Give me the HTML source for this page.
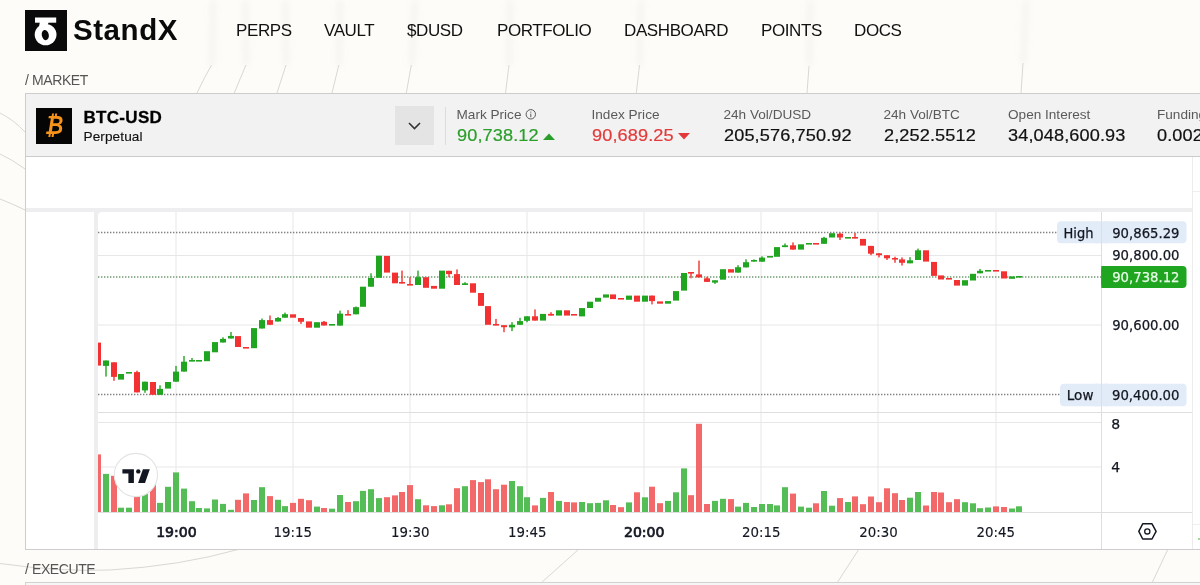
<!DOCTYPE html>
<html><head><meta charset="utf-8">
<style>
*{box-sizing:border-box;margin:0;padding:0}
html,body{width:1200px;height:585px;overflow:hidden;background:#fdfcf8;font-family:"Liberation Sans",Arial,sans-serif;color:#111}
.abs{position:absolute}
.t{position:absolute;white-space:nowrap;line-height:1}
#bgsvg{position:absolute;left:0;top:0}
.logo{left:25px;top:10px;width:42px;height:41px;background:#0a0a0a}
.brand{left:73px;top:14.5px;font-size:29.5px;font-weight:bold;color:#0a0a0a;letter-spacing:0.55px}
.nav{top:21.5px;font-size:17px;letter-spacing:-0.4px;color:#111}
.sec{font-size:14px;color:#555;letter-spacing:-0.4px}
.panel{left:25px;top:93px;width:1190px;height:457px;border:1px solid #cdcdcd;background:#fff}
.hdr{left:26px;top:94px;width:1180px;height:63px;background:#f2f2f2;border-bottom:1px solid #cbcbcb}
.btc{left:36px;top:108px;width:36px;height:36px;background:#050505}
.lbl{font-size:13.6px;color:#5a5a5a}
.val{font-size:16.5px;letter-spacing:0.1px;color:#111;transform:scaleX(1.1);transform-origin:0 0;-webkit-text-stroke:0.2px currentColor}
</style></head><body>
<svg id="bgsvg" width="1200" height="585" viewBox="0 0 1200 585">
 <defs><filter id="bl" x="-50%" y="-10%" width="200%" height="120%"><feGaussianBlur stdDeviation="3.5"/></filter></defs>
 <g stroke="#d6d6d1" stroke-width="1.2" fill="none" filter="url(#bl)">
  <path d="M213 0 L212 66"/>
  <path d="M245.5 0 L246 66"/>
  <path d="M285.5 0 L286 66"/>
  <path d="M340 0 L339 66"/>
  <path d="M415 0 L411.5 66"/>
  <path d="M510 0 L509 66"/>
  <path d="M641 0 L639.5 66"/>
  <path d="M810 0 L809.3 66"/>
  <path d="M1026 0 L1023.3 64"/>
 </g>
 <g stroke="#d9d9d4" stroke-width="1" fill="none">
  <path d="M211.5 65 Q204 78 197 93"/>
  <path d="M246 65 Q240 79 234.3 93"/>
  <path d="M286 65 Q281.5 79 277 93"/>
  <path d="M338.8 65 L332 93"/>
  <path d="M411.3 65 L406.3 93"/>
  <path d="M509 65 L505.5 93"/>
  <path d="M639.5 65 L636.3 93"/>
  <path d="M809 66 L807 93"/>
  <path d="M1023 63 L1021 93"/>
  <path d="M0 113 Q14 120 25 132"/>
  <path d="M0 154 Q13 160 25 169"/>
  <path d="M0 199 Q13 204 25 210"/>
  <path d="M0 563.5 Q60 572 110 570 Q180 566 240 549"/>
  <path d="M579 549 L541 583"/>
  <path d="M859 549 L837 583"/>
  <path d="M1168 549 L1152 583"/>
 </g>
</svg>

<div class="abs logo">
 <svg width="42" height="41" viewBox="0 0 42 41">
  <rect x="10" y="7.5" width="21.2" height="5.2" fill="#fff"/>
  <path d="M15 11.5 L24 11.5 L22 16.5 L14 16.5Z" fill="#fff"/>
  <ellipse cx="20.6" cy="24.6" rx="10.9" ry="10.7" fill="#fff"/>
  <ellipse cx="20.3" cy="25.1" rx="3.5" ry="5.1" transform="rotate(-12 20.3 25.1)" fill="#0a0a0a"/>
 </svg>
</div>
<div class="t brand">StandX</div>

<div class="t nav" style="left:236px">PERPS</div>
<div class="t nav" style="left:324px">VAULT</div>
<div class="t nav" style="left:407px">$DUSD</div>
<div class="t nav" style="left:497px">PORTFOLIO</div>
<div class="t nav" style="left:624px">DASHBOARD</div>
<div class="t nav" style="left:761px">POINTS</div>
<div class="t nav" style="left:854px">DOCS</div>

<div class="t sec" style="left:25px;top:73px">/ MARKET</div>

<div class="abs panel"></div>
<div class="abs hdr"></div>
<div class="abs btc">
 <svg width="36" height="36" viewBox="0 0 36 36">
  <text x="8.7" y="26" font-family="Liberation Sans" font-weight="bold" font-style="italic" font-size="26.5" textLength="18.6" lengthAdjust="spacingAndGlyphs" fill="#f7931a">&#x20BF;</text>
 </svg>
</div>
<div class="t" style="left:83.5px;top:109px;font-size:17px;font-weight:bold;letter-spacing:0.3px;-webkit-text-stroke:0.3px #000;color:#000">BTC-USD</div>
<div class="t" style="left:83.5px;top:129.5px;font-size:13.6px;color:#111;letter-spacing:0.1px;-webkit-text-stroke:0.15px #111">Perpetual</div>

<div class="abs" style="left:395px;top:106px;width:39px;height:39px;background:#e4e4e4">
 <svg width="39" height="39" viewBox="0 0 39 39"><path d="M14 17 L19.5 22.5 L25 17" stroke="#333" stroke-width="1.6" fill="none"/></svg>
</div>
<div class="abs" style="left:445px;top:107px;width:1px;height:38px;background:#dcdcdc"></div>

<div class="t lbl" style="left:456.5px;top:108px">Mark Price</div>
<svg class="abs" style="left:525px;top:109px" width="12" height="12" viewBox="0 0 12 12"><circle cx="5.8" cy="5.3" r="4.7" stroke="#5a5a5a" stroke-width="1" fill="none"/><rect x="5.3" y="4.6" width="1" height="3.6" fill="#5a5a5a"/><rect x="5.3" y="2.6" width="1" height="1.1" fill="#5a5a5a"/></svg>
<div class="t val" style="left:456.5px;top:127px;color:#2a9e2a">90,738.12</div>
<svg class="abs" style="left:543px;top:133px" width="12" height="7" viewBox="0 0 12 7"><path d="M0 7 L6 0.5 L12 7Z" fill="#2a9e2a"/></svg>

<div class="t lbl" style="left:591.5px;top:108px">Index Price</div>
<div class="t val" style="left:591.5px;top:127px;color:#e23a3a">90,689.25</div>
<svg class="abs" style="left:678px;top:133px" width="12" height="7" viewBox="0 0 12 7"><path d="M0 0 L12 0 L6 6.5Z" fill="#e23a3a"/></svg>

<div class="t lbl" style="left:723.5px;top:108px">24h Vol/DUSD</div>
<div class="t val" style="left:723.5px;top:127px">205,576,750.92</div>

<div class="t lbl" style="left:883.5px;top:108px">24h Vol/BTC</div>
<div class="t val" style="left:883.5px;top:127px">2,252.5512</div>

<div class="t lbl" style="left:1008px;top:108px">Open Interest</div>
<div class="t val" style="left:1008px;top:127px">34,048,600.93</div>

<div class="t lbl" style="left:1157px;top:108px">Funding</div>
<div class="t val" style="left:1157px;top:127px">0.0025%</div>

<!-- chart frame -->
<div class="abs" style="left:26px;top:208px;width:1166px;height:4px;background:#eeeef0"></div>
<div class="abs" style="left:94px;top:212px;width:4px;height:337px;background:#eeeef0"></div>
<div class="abs" style="left:98px;top:212px;width:5px;height:5px;background:#eeeef0"></div>
<div class="abs" style="left:1192px;top:157px;width:1px;height:392px;background:#ececec"></div>
<div class="abs" style="left:1193px;top:191px;width:7px;height:1px;background:#efefef"></div>
<div class="abs" style="left:1193px;top:524px;width:7px;height:1px;background:#efefef"></div>
<div class="abs" style="left:1198px;top:538px;width:2px;height:2px;background:#9fd89f"></div>

<svg class="abs" style="left:0;top:0" width="1200" height="585" viewBox="0 0 1200 585">
 <defs><clipPath id="cp"><rect x="98" y="212" width="1094" height="337" rx="4"/></clipPath></defs>
 <g clip-path="url(#cp)">
 <rect x="98" y="212" width="1094" height="337" fill="#fff"/>
 <!-- grid -->
 <g fill="#e7e7e9">
  <rect x="175.5" y="212" width="1" height="300"/>
  <rect x="292.5" y="212" width="1" height="300"/>
  <rect x="409.5" y="212" width="1" height="300"/>
  <rect x="526.5" y="212" width="1" height="300"/>
  <rect x="643.5" y="212" width="1" height="300"/>
  <rect x="760.5" y="212" width="1" height="300"/>
  <rect x="877.5" y="212" width="1" height="300"/>
  <rect x="995.5" y="212" width="1" height="300"/>
  <rect x="98" y="255" width="1003" height="1"/>
  <rect x="98" y="324.5" width="1003" height="1"/>
  <rect x="98" y="422" width="1003" height="1"/>
  <rect x="98" y="466.5" width="1003" height="1"/>
 </g>
 <!-- separators -->
 <rect x="98" y="412" width="1094" height="1" fill="#dedede"/>
 <rect x="98" y="512" width="1094" height="1" fill="#dedede"/>
 <rect x="1101" y="212" width="1" height="337" fill="#dedede"/>
 <!-- high/low/current lines -->
 <line x1="98" y1="232.5" x2="1057" y2="232.5" stroke="#808080" stroke-width="1.4" stroke-dasharray="1.4 1.6"/>
 <line x1="98" y1="394.5" x2="1060" y2="394.5" stroke="#808080" stroke-width="1.4" stroke-dasharray="1.4 1.6"/>
 <line x1="98" y1="277" x2="1101" y2="277" stroke="#6f9a6f" stroke-width="1.4" stroke-dasharray="1.4 1.6"/>
 <g>
<rect x="95" y="342.6" width="6" height="23.0" fill="#f23232"/>
<rect x="105.3" y="360.5" width="1.4" height="16.1" fill="#20a520"/><rect x="103" y="360.5" width="6" height="5.4" fill="#20a520"/>
<rect x="113.3" y="362.3" width="1.4" height="18.5" fill="#f23232"/><rect x="111" y="362.3" width="6" height="14.6" fill="#f23232"/>
<rect x="118" y="374.0" width="6" height="5.6" fill="#20a520"/>
<rect x="126" y="372.0" width="6" height="1.6" fill="#20a520"/>
<rect x="136.3" y="370.7" width="1.4" height="21.7" fill="#f23232"/><rect x="134" y="372.1" width="6" height="20.3" fill="#f23232"/>
<rect x="144.3" y="381.7" width="1.4" height="11.1" fill="#20a520"/><rect x="142" y="381.7" width="6" height="8.7" fill="#20a520"/>
<rect x="150" y="382.0" width="6" height="12.8" fill="#f23232"/>
<rect x="159.3" y="385.3" width="1.4" height="9.5" fill="#20a520"/><rect x="157" y="388.9" width="6" height="5.9" fill="#20a520"/>
<rect x="165" y="382.0" width="6" height="6.6" fill="#20a520"/>
<rect x="175.3" y="365.9" width="1.4" height="15.8" fill="#20a520"/><rect x="173" y="371.6" width="6" height="10.1" fill="#20a520"/>
<rect x="183.3" y="356.0" width="1.4" height="15.6" fill="#20a520"/><rect x="181" y="361.7" width="6" height="9.9" fill="#20a520"/>
<rect x="191.3" y="358.0" width="1.4" height="3.3" fill="#20a520"/><rect x="189" y="360.0" width="6" height="1.6" fill="#20a520"/>
<rect x="196" y="360.0" width="6" height="1.6" fill="#20a520"/>
<rect x="204" y="351.2" width="6" height="10.0" fill="#20a520"/>
<rect x="212" y="342.1" width="6" height="10.2" fill="#20a520"/>
<rect x="222.3" y="337.3" width="1.4" height="5.2" fill="#20a520"/><rect x="220" y="338.9" width="6" height="3.6" fill="#20a520"/>
<rect x="230.3" y="332.0" width="1.4" height="6.5" fill="#20a520"/><rect x="228" y="335.9" width="6" height="2.6" fill="#20a520"/>
<rect x="235" y="336.1" width="6" height="10.9" fill="#f23232"/>
<rect x="243" y="347.0" width="6" height="1.6" fill="#f23232"/>
<rect x="251" y="328.1" width="6" height="20.1" fill="#20a520"/>
<rect x="261.3" y="318.5" width="1.4" height="10.0" fill="#20a520"/><rect x="259" y="320.1" width="6" height="8.4" fill="#20a520"/>
<rect x="269.3" y="315.5" width="1.4" height="9.3" fill="#f23232"/><rect x="267" y="320.1" width="6" height="4.7" fill="#f23232"/>
<rect x="277.3" y="317.0" width="1.4" height="4.5" fill="#20a520"/><rect x="275" y="318.0" width="6" height="3.5" fill="#20a520"/>
<rect x="284.3" y="312.6" width="1.4" height="5.1" fill="#20a520"/><rect x="282" y="314.2" width="6" height="3.5" fill="#20a520"/>
<rect x="290" y="314.3" width="6" height="3.4" fill="#f23232"/>
<rect x="300.3" y="318.0" width="1.4" height="5.9" fill="#f23232"/><rect x="298" y="318.0" width="6" height="3.8" fill="#f23232"/>
<rect x="306" y="321.4" width="6" height="6.3" fill="#f23232"/>
<rect x="314" y="322.2" width="6" height="5.5" fill="#20a520"/>
<rect x="323.3" y="321.0" width="1.4" height="4.5" fill="#f23232"/><rect x="321" y="321.8" width="6" height="3.7" fill="#f23232"/>
<rect x="329" y="324.0" width="6" height="1.6" fill="#20a520"/>
<rect x="339.3" y="310.6" width="1.4" height="15.0" fill="#20a520"/><rect x="337" y="313.6" width="6" height="12.0" fill="#20a520"/>
<rect x="347.3" y="310.2" width="1.4" height="4.8" fill="#f23232"/><rect x="345" y="314.0" width="6" height="1.6" fill="#f23232"/>
<rect x="355.3" y="306.5" width="1.4" height="7.8" fill="#20a520"/><rect x="353" y="307.2" width="6" height="7.1" fill="#20a520"/>
<rect x="360" y="286.7" width="6" height="20.1" fill="#20a520"/>
<rect x="370.3" y="273.3" width="1.4" height="13.4" fill="#20a520"/><rect x="368" y="278.0" width="6" height="8.7" fill="#20a520"/>
<rect x="376" y="255.7" width="6" height="22.1" fill="#20a520"/>
<rect x="384" y="255.9" width="6" height="16.7" fill="#f23232"/>
<rect x="392" y="272.6" width="6" height="10.7" fill="#f23232"/>
<rect x="401.3" y="270.6" width="1.4" height="12.7" fill="#f23232"/><rect x="399" y="282.0" width="6" height="1.6" fill="#f23232"/>
<rect x="409.3" y="277.2" width="1.4" height="7.8" fill="#f23232"/><rect x="407" y="284.0" width="6" height="1.6" fill="#f23232"/>
<rect x="417.3" y="270.6" width="1.4" height="14.4" fill="#20a520"/><rect x="415" y="277.2" width="6" height="7.8" fill="#20a520"/>
<rect x="423" y="277.2" width="6" height="10.6" fill="#f23232"/>
<rect x="431" y="285.9" width="6" height="2.8" fill="#f23232"/>
<rect x="439" y="270.6" width="6" height="18.1" fill="#20a520"/>
<rect x="448.3" y="270.8" width="1.4" height="6.4" fill="#f23232"/><rect x="446" y="270.8" width="6" height="3.3" fill="#f23232"/>
<rect x="456.3" y="269.4" width="1.4" height="15.6" fill="#f23232"/><rect x="454" y="274.1" width="6" height="10.9" fill="#f23232"/>
<rect x="464.3" y="282.2" width="1.4" height="2.8" fill="#20a520"/><rect x="462" y="283.3" width="6" height="1.7" fill="#20a520"/>
<rect x="470" y="283.3" width="6" height="9.4" fill="#f23232"/>
<rect x="478" y="293.0" width="6" height="12.9" fill="#f23232"/>
<rect x="485" y="306.1" width="6" height="18.7" fill="#f23232"/>
<rect x="495.3" y="318.9" width="1.4" height="6.3" fill="#f23232"/><rect x="493" y="324.0" width="6" height="1.6" fill="#f23232"/>
<rect x="503.3" y="325.2" width="1.4" height="7.0" fill="#f23232"/><rect x="501" y="325.2" width="6" height="2.0" fill="#f23232"/>
<rect x="511.3" y="322.2" width="1.4" height="8.9" fill="#20a520"/><rect x="509" y="324.8" width="6" height="2.6" fill="#20a520"/>
<rect x="519.3" y="317.8" width="1.4" height="7.0" fill="#20a520"/><rect x="517" y="321.1" width="6" height="3.7" fill="#20a520"/>
<rect x="526.3" y="316.3" width="1.4" height="5.9" fill="#20a520"/><rect x="524" y="316.3" width="6" height="4.5" fill="#20a520"/>
<rect x="534.3" y="309.4" width="1.4" height="11.2" fill="#f23232"/><rect x="532" y="316.3" width="6" height="4.3" fill="#f23232"/>
<rect x="540" y="313.9" width="6" height="6.7" fill="#20a520"/>
<rect x="550.3" y="312.2" width="1.4" height="3.4" fill="#f23232"/><rect x="548" y="313.9" width="6" height="1.7" fill="#f23232"/>
<rect x="556" y="310.3" width="6" height="5.3" fill="#20a520"/>
<rect x="564" y="310.3" width="6" height="5.3" fill="#f23232"/>
<rect x="571" y="314.0" width="6" height="1.6" fill="#f23232"/>
<rect x="579" y="308.1" width="6" height="8.3" fill="#20a520"/>
<rect x="587" y="301.7" width="6" height="6.3" fill="#20a520"/>
<rect x="595" y="297.8" width="6" height="3.9" fill="#20a520"/>
<rect x="603" y="294.4" width="6" height="3.2" fill="#20a520"/>
<rect x="610" y="294.4" width="6" height="4.7" fill="#f23232"/>
<rect x="618" y="298.0" width="6" height="1.6" fill="#f23232"/>
<rect x="626" y="295.6" width="6" height="4.2" fill="#20a520"/>
<rect x="634" y="295.6" width="6" height="6.1" fill="#f23232"/>
<rect x="642" y="295.6" width="6" height="6.1" fill="#20a520"/>
<rect x="651.3" y="295.6" width="1.4" height="8.8" fill="#f23232"/><rect x="649" y="295.6" width="6" height="5.5" fill="#f23232"/>
<rect x="657" y="301.4" width="6" height="2.3" fill="#f23232"/>
<rect x="665" y="301.1" width="6" height="2.6" fill="#20a520"/>
<rect x="673" y="291.1" width="6" height="9.5" fill="#20a520"/>
<rect x="681" y="273.0" width="6" height="17.6" fill="#20a520"/>
<rect x="690.3" y="272.0" width="1.4" height="6.3" fill="#f23232"/><rect x="688" y="272.0" width="6" height="1.6" fill="#f23232"/>
<rect x="698.3" y="260.6" width="1.4" height="16.8" fill="#f23232"/><rect x="696" y="274.4" width="6" height="3.0" fill="#f23232"/>
<rect x="706.3" y="276.7" width="1.4" height="5.2" fill="#f23232"/><rect x="704" y="278.3" width="6" height="3.6" fill="#f23232"/>
<rect x="714.3" y="280.3" width="1.4" height="3.6" fill="#20a520"/><rect x="712" y="280.3" width="6" height="2.3" fill="#20a520"/>
<rect x="720" y="269.2" width="6" height="10.5" fill="#20a520"/>
<rect x="728" y="269.2" width="6" height="3.4" fill="#f23232"/>
<rect x="737.3" y="265.2" width="1.4" height="7.4" fill="#20a520"/><rect x="735" y="267.2" width="6" height="5.4" fill="#20a520"/>
<rect x="745.3" y="259.3" width="1.4" height="8.1" fill="#20a520"/><rect x="743" y="262.2" width="6" height="5.2" fill="#20a520"/>
<rect x="753.3" y="259.4" width="1.4" height="2.3" fill="#20a520"/><rect x="751" y="260.0" width="6" height="1.6" fill="#20a520"/>
<rect x="761.3" y="256.3" width="1.4" height="5.4" fill="#20a520"/><rect x="759" y="257.6" width="6" height="4.1" fill="#20a520"/>
<rect x="767" y="256.0" width="6" height="1.6" fill="#20a520"/>
<rect x="774" y="247.1" width="6" height="9.7" fill="#20a520"/>
<rect x="784.3" y="243.5" width="1.4" height="3.6" fill="#20a520"/><rect x="782" y="245.3" width="6" height="1.8" fill="#20a520"/>
<rect x="792.3" y="242.4" width="1.4" height="7.2" fill="#f23232"/><rect x="790" y="245.3" width="6" height="4.3" fill="#f23232"/>
<rect x="798" y="244.3" width="6" height="5.3" fill="#20a520"/>
<rect x="806" y="243.0" width="6" height="1.6" fill="#20a520"/>
<rect x="813" y="243.0" width="6" height="1.6" fill="#f23232"/>
<rect x="823.3" y="236.8" width="1.4" height="7.0" fill="#20a520"/><rect x="821" y="237.8" width="6" height="6.0" fill="#20a520"/>
<rect x="829" y="233.2" width="6" height="4.3" fill="#20a520"/>
<rect x="839.3" y="232.6" width="1.4" height="7.4" fill="#f23232"/><rect x="837" y="233.7" width="6" height="3.8" fill="#f23232"/>
<rect x="845" y="237.0" width="6" height="1.6" fill="#20a520"/>
<rect x="854.3" y="233.0" width="1.4" height="5.3" fill="#f23232"/><rect x="852" y="237.0" width="6" height="1.6" fill="#f23232"/>
<rect x="860" y="238.9" width="6" height="6.7" fill="#f23232"/>
<rect x="870.3" y="245.9" width="1.4" height="9.3" fill="#f23232"/><rect x="868" y="245.9" width="6" height="7.8" fill="#f23232"/>
<rect x="878.3" y="253.3" width="1.4" height="4.1" fill="#f23232"/><rect x="876" y="253.3" width="6" height="1.9" fill="#f23232"/>
<rect x="886.3" y="255.2" width="1.4" height="4.8" fill="#f23232"/><rect x="884" y="255.2" width="6" height="3.1" fill="#f23232"/>
<rect x="894.3" y="256.7" width="1.4" height="6.1" fill="#f23232"/><rect x="892" y="258.0" width="6" height="1.6" fill="#f23232"/>
<rect x="901.3" y="257.4" width="1.4" height="8.2" fill="#f23232"/><rect x="899" y="259.4" width="6" height="3.4" fill="#f23232"/>
<rect x="909.3" y="257.2" width="1.4" height="6.1" fill="#20a520"/><rect x="907" y="260.3" width="6" height="3.0" fill="#20a520"/>
<rect x="917.3" y="248.6" width="1.4" height="11.4" fill="#20a520"/><rect x="915" y="250.3" width="6" height="9.7" fill="#20a520"/>
<rect x="923" y="250.3" width="6" height="11.3" fill="#f23232"/>
<rect x="931" y="261.9" width="6" height="14.0" fill="#f23232"/>
<rect x="938" y="275.4" width="6" height="4.1" fill="#f23232"/>
<rect x="946" y="278.0" width="6" height="1.6" fill="#f23232"/>
<rect x="954" y="280.0" width="6" height="5.6" fill="#f23232"/>
<rect x="962" y="280.2" width="6" height="5.4" fill="#20a520"/>
<rect x="970" y="273.8" width="6" height="6.7" fill="#20a520"/>
<rect x="979.3" y="269.0" width="1.4" height="4.3" fill="#20a520"/><rect x="977" y="270.8" width="6" height="2.5" fill="#20a520"/>
<rect x="985" y="270.0" width="6" height="1.6" fill="#20a520"/>
<rect x="993" y="270.0" width="6" height="1.6" fill="#f23232"/>
<rect x="1001" y="271.3" width="6" height="7.2" fill="#f23232"/>
<rect x="1009" y="276.4" width="6" height="2.4" fill="#20a520"/>
<rect x="1016" y="276.0" width="6" height="1.6" fill="#20a520"/>
 </g>
 <g>
<rect x="95" y="454.4" width="6" height="57.6" fill="#f36868"/>
<rect x="103" y="473.9" width="6" height="38.1" fill="#55bd55"/>
<rect x="111" y="475.8" width="6" height="36.2" fill="#f36868"/>
<rect x="118" y="507.7" width="6" height="4.3" fill="#55bd55"/>
<rect x="126" y="507.7" width="6" height="4.3" fill="#55bd55"/>
<rect x="134" y="480.0" width="6" height="32.0" fill="#f36868"/>
<rect x="142" y="490.0" width="6" height="22.0" fill="#55bd55"/>
<rect x="150" y="482.0" width="6" height="30.0" fill="#f36868"/>
<rect x="157" y="502.9" width="6" height="9.1" fill="#55bd55"/>
<rect x="165" y="486.8" width="6" height="25.2" fill="#55bd55"/>
<rect x="173" y="472.4" width="6" height="39.6" fill="#55bd55"/>
<rect x="181" y="488.6" width="6" height="23.4" fill="#55bd55"/>
<rect x="189" y="501.2" width="6" height="10.8" fill="#55bd55"/>
<rect x="196" y="508.0" width="6" height="4.0" fill="#55bd55"/>
<rect x="204" y="508.4" width="6" height="3.6" fill="#55bd55"/>
<rect x="212" y="499.5" width="6" height="12.5" fill="#55bd55"/>
<rect x="220" y="503.9" width="6" height="8.1" fill="#55bd55"/>
<rect x="228" y="509.8" width="6" height="2.2" fill="#55bd55"/>
<rect x="235" y="499.8" width="6" height="12.2" fill="#f36868"/>
<rect x="243" y="493.4" width="6" height="18.6" fill="#f36868"/>
<rect x="251" y="500.0" width="6" height="12.0" fill="#55bd55"/>
<rect x="259" y="487.2" width="6" height="24.8" fill="#55bd55"/>
<rect x="267" y="496.1" width="6" height="15.9" fill="#f36868"/>
<rect x="275" y="499.8" width="6" height="12.2" fill="#55bd55"/>
<rect x="282" y="506.1" width="6" height="5.9" fill="#55bd55"/>
<rect x="290" y="502.9" width="6" height="9.1" fill="#f36868"/>
<rect x="298" y="498.8" width="6" height="13.2" fill="#f36868"/>
<rect x="306" y="500.2" width="6" height="11.8" fill="#f36868"/>
<rect x="314" y="506.6" width="6" height="5.4" fill="#55bd55"/>
<rect x="321" y="508.0" width="6" height="4.0" fill="#f36868"/>
<rect x="329" y="508.7" width="6" height="3.3" fill="#55bd55"/>
<rect x="337" y="495.0" width="6" height="17.0" fill="#55bd55"/>
<rect x="345" y="502.0" width="6" height="10.0" fill="#f36868"/>
<rect x="353" y="501.2" width="6" height="10.8" fill="#55bd55"/>
<rect x="360" y="490.9" width="6" height="21.1" fill="#55bd55"/>
<rect x="368" y="489.2" width="6" height="22.8" fill="#55bd55"/>
<rect x="376" y="498.1" width="6" height="13.9" fill="#55bd55"/>
<rect x="384" y="497.2" width="6" height="14.8" fill="#f36868"/>
<rect x="392" y="495.4" width="6" height="16.6" fill="#f36868"/>
<rect x="399" y="492.0" width="6" height="20.0" fill="#f36868"/>
<rect x="407" y="485.1" width="6" height="26.9" fill="#f36868"/>
<rect x="415" y="499.2" width="6" height="12.8" fill="#55bd55"/>
<rect x="423" y="505.3" width="6" height="6.7" fill="#f36868"/>
<rect x="431" y="506.1" width="6" height="5.9" fill="#f36868"/>
<rect x="439" y="505.3" width="6" height="6.7" fill="#55bd55"/>
<rect x="446" y="504.3" width="6" height="7.7" fill="#f36868"/>
<rect x="454" y="488.2" width="6" height="23.8" fill="#f36868"/>
<rect x="462" y="486.2" width="6" height="25.8" fill="#55bd55"/>
<rect x="470" y="480.1" width="6" height="31.9" fill="#f36868"/>
<rect x="478" y="482.1" width="6" height="29.9" fill="#f36868"/>
<rect x="485" y="479.3" width="6" height="32.7" fill="#f36868"/>
<rect x="493" y="489.2" width="6" height="22.8" fill="#f36868"/>
<rect x="501" y="484.7" width="6" height="27.3" fill="#f36868"/>
<rect x="509" y="481.0" width="6" height="31.0" fill="#55bd55"/>
<rect x="517" y="486.2" width="6" height="25.8" fill="#55bd55"/>
<rect x="524" y="497.2" width="6" height="14.8" fill="#55bd55"/>
<rect x="532" y="505.4" width="6" height="6.6" fill="#f36868"/>
<rect x="540" y="497.9" width="6" height="14.1" fill="#55bd55"/>
<rect x="548" y="492.0" width="6" height="20.0" fill="#f36868"/>
<rect x="556" y="500.9" width="6" height="11.1" fill="#55bd55"/>
<rect x="564" y="502.0" width="6" height="10.0" fill="#f36868"/>
<rect x="571" y="502.4" width="6" height="9.6" fill="#f36868"/>
<rect x="579" y="502.0" width="6" height="10.0" fill="#55bd55"/>
<rect x="587" y="503.2" width="6" height="8.8" fill="#55bd55"/>
<rect x="595" y="502.9" width="6" height="9.1" fill="#55bd55"/>
<rect x="603" y="500.3" width="6" height="11.7" fill="#55bd55"/>
<rect x="610" y="505.0" width="6" height="7.0" fill="#f36868"/>
<rect x="618" y="507.2" width="6" height="4.8" fill="#f36868"/>
<rect x="626" y="502.4" width="6" height="9.6" fill="#55bd55"/>
<rect x="634" y="492.3" width="6" height="19.7" fill="#f36868"/>
<rect x="642" y="497.3" width="6" height="14.7" fill="#55bd55"/>
<rect x="649" y="486.7" width="6" height="25.3" fill="#f36868"/>
<rect x="657" y="503.2" width="6" height="8.8" fill="#f36868"/>
<rect x="665" y="500.9" width="6" height="11.1" fill="#55bd55"/>
<rect x="673" y="492.3" width="6" height="19.7" fill="#55bd55"/>
<rect x="681" y="468.4" width="6" height="43.6" fill="#55bd55"/>
<rect x="688" y="495.2" width="6" height="16.8" fill="#f36868"/>
<rect x="696" y="423.8" width="6" height="88.2" fill="#f36868"/>
<rect x="704" y="504.0" width="6" height="8.0" fill="#f36868"/>
<rect x="712" y="500.9" width="6" height="11.1" fill="#55bd55"/>
<rect x="720" y="498.8" width="6" height="13.2" fill="#55bd55"/>
<rect x="728" y="499.1" width="6" height="12.9" fill="#f36868"/>
<rect x="735" y="506.6" width="6" height="5.4" fill="#55bd55"/>
<rect x="743" y="502.9" width="6" height="9.1" fill="#55bd55"/>
<rect x="751" y="507.0" width="6" height="5.0" fill="#55bd55"/>
<rect x="759" y="504.0" width="6" height="8.0" fill="#55bd55"/>
<rect x="767" y="504.0" width="6" height="8.0" fill="#55bd55"/>
<rect x="774" y="505.4" width="6" height="6.6" fill="#55bd55"/>
<rect x="782" y="487.2" width="6" height="24.8" fill="#55bd55"/>
<rect x="790" y="493.6" width="6" height="18.4" fill="#f36868"/>
<rect x="798" y="506.6" width="6" height="5.4" fill="#55bd55"/>
<rect x="806" y="507.7" width="6" height="4.3" fill="#55bd55"/>
<rect x="813" y="503.3" width="6" height="8.7" fill="#f36868"/>
<rect x="821" y="491.0" width="6" height="21.0" fill="#55bd55"/>
<rect x="829" y="505.7" width="6" height="6.3" fill="#55bd55"/>
<rect x="837" y="498.1" width="6" height="13.9" fill="#f36868"/>
<rect x="845" y="502.0" width="6" height="10.0" fill="#55bd55"/>
<rect x="852" y="496.4" width="6" height="15.6" fill="#f36868"/>
<rect x="860" y="504.2" width="6" height="7.8" fill="#f36868"/>
<rect x="868" y="496.5" width="6" height="15.5" fill="#f36868"/>
<rect x="876" y="502.2" width="6" height="9.8" fill="#f36868"/>
<rect x="884" y="488.3" width="6" height="23.7" fill="#f36868"/>
<rect x="892" y="493.2" width="6" height="18.8" fill="#f36868"/>
<rect x="899" y="500.0" width="6" height="12.0" fill="#f36868"/>
<rect x="907" y="497.7" width="6" height="14.3" fill="#55bd55"/>
<rect x="915" y="492.0" width="6" height="20.0" fill="#55bd55"/>
<rect x="923" y="505.5" width="6" height="6.5" fill="#f36868"/>
<rect x="931" y="492.0" width="6" height="20.0" fill="#f36868"/>
<rect x="938" y="492.5" width="6" height="19.5" fill="#f36868"/>
<rect x="946" y="502.2" width="6" height="9.8" fill="#f36868"/>
<rect x="954" y="499.2" width="6" height="12.8" fill="#f36868"/>
<rect x="962" y="502.2" width="6" height="9.8" fill="#55bd55"/>
<rect x="970" y="503.3" width="6" height="8.7" fill="#55bd55"/>
<rect x="977" y="508.2" width="6" height="3.8" fill="#55bd55"/>
<rect x="985" y="507.5" width="6" height="4.5" fill="#55bd55"/>
<rect x="993" y="506.4" width="6" height="5.6" fill="#f36868"/>
<rect x="1001" y="507.0" width="6" height="5.0" fill="#f36868"/>
<rect x="1009" y="508.5" width="6" height="3.5" fill="#55bd55"/>
<rect x="1016" y="506.3" width="6" height="5.7" fill="#55bd55"/>
 </g>
 <!-- TV logo -->
 <circle cx="135.9" cy="475" r="21.6" fill="#fff" stroke="#e3e3e6" stroke-width="1.1"/>
 <path d="M122.4 469.2 H133.9 V482.9 H128.4 V473.6 H122.4Z" fill="#131722"/>
 <circle cx="138.3" cy="471.4" r="2.2" fill="#131722"/>
 <path d="M142.9 469.2 H149.8 L145 482.9 H138.1Z" fill="#131722"/>
 <!-- price axis labels -->
 <g stroke="none">
  <rect x="1057" y="221.3" width="44" height="22" rx="4" fill="#e2ecf8"/>
  <rect x="1095" y="221.3" width="6" height="22" fill="#e2ecf8"/>
  <rect x="1102" y="221.3" width="84.5" height="22" rx="4" fill="#e2ecf8"/>
  <rect x="1102" y="221.3" width="6" height="22" fill="#e2ecf8"/>
  <rect x="1101.3" y="266" width="85.2" height="22" rx="4" fill="#20a520"/>
  <rect x="1101.3" y="266" width="6" height="22" fill="#20a520"/>
  <rect x="1060" y="383.7" width="41" height="22.6" rx="4" fill="#e2ecf8"/>
  <rect x="1095" y="383.7" width="6" height="22.6" fill="#e2ecf8"/>
  <rect x="1102" y="383.7" width="84.5" height="22.6" rx="4" fill="#e2ecf8"/>
  <rect x="1102" y="383.7" width="6" height="22.6" fill="#e2ecf8"/>
 </g>
 <g font-family="DejaVu Sans" font-size="14" fill="#131722" stroke="#131722" stroke-width="0.25">
  <text x="1063.5" y="237.6" textLength="30" lengthAdjust="spacingAndGlyphs">High</text>
  <text x="1112.2" y="237.6" textLength="67.3" lengthAdjust="spacingAndGlyphs">90,865.29</text>
  <text x="1112.2" y="260.2" textLength="67.3" lengthAdjust="spacingAndGlyphs">90,800.00</text>
  <text x="1112.2" y="282.2" fill="#e8fbe8" stroke="#e8fbe8" textLength="67.3" lengthAdjust="spacingAndGlyphs">90,738.12</text>
  <text x="1112.2" y="329.8" textLength="67.3" lengthAdjust="spacingAndGlyphs">90,600.00</text>
  <text x="1066.8" y="399.8" textLength="26.7" lengthAdjust="spacingAndGlyphs">Low</text>
  <text x="1112" y="399.8" textLength="67.5" lengthAdjust="spacingAndGlyphs">90,400.00</text>
  <text x="1111.3" y="428.6">8</text>
  <text x="1111.3" y="472.3">4</text>
 </g>
 <g font-family="DejaVu Sans" font-size="14" fill="#131722" stroke="#131722" stroke-width="0.15" text-anchor="middle">
  <text x="176.4" y="536.8" stroke-width="0.7" textLength="40.5" lengthAdjust="spacingAndGlyphs">19:00</text>
  <text x="292.7" y="536.8" textLength="38.5" lengthAdjust="spacingAndGlyphs">19:15</text>
  <text x="410.3" y="536.8" textLength="38.5" lengthAdjust="spacingAndGlyphs">19:30</text>
  <text x="527.3" y="536.8" textLength="38.5" lengthAdjust="spacingAndGlyphs">19:45</text>
  <text x="644.2" y="536.8" stroke-width="0.7" textLength="40.5" lengthAdjust="spacingAndGlyphs">20:00</text>
  <text x="761.3" y="536.8" textLength="38.5" lengthAdjust="spacingAndGlyphs">20:15</text>
  <text x="878.4" y="536.8" textLength="38.5" lengthAdjust="spacingAndGlyphs">20:30</text>
  <text x="995.8" y="536.8" textLength="38.5" lengthAdjust="spacingAndGlyphs">20:45</text>
 </g>
 <!-- settings hex -->
 <path d="M1138.8 531.4 L1142.7 523.8 L1152 523.8 L1156.1 531.4 L1152 539 L1142.7 539Z" fill="none" stroke="#131722" stroke-width="1.5" stroke-linejoin="round"/>
 <circle cx="1147.3" cy="531.4" r="2.6" fill="none" stroke="#131722" stroke-width="1.3"/>
 </g>
</svg>

<div class="t sec" style="left:25px;top:562px">/ EXECUTE</div>
<div class="abs" style="left:25px;top:582px;width:1190px;height:10px;border:1px solid #d2d2d2;background:#f6f6f6"></div>
</body></html>
